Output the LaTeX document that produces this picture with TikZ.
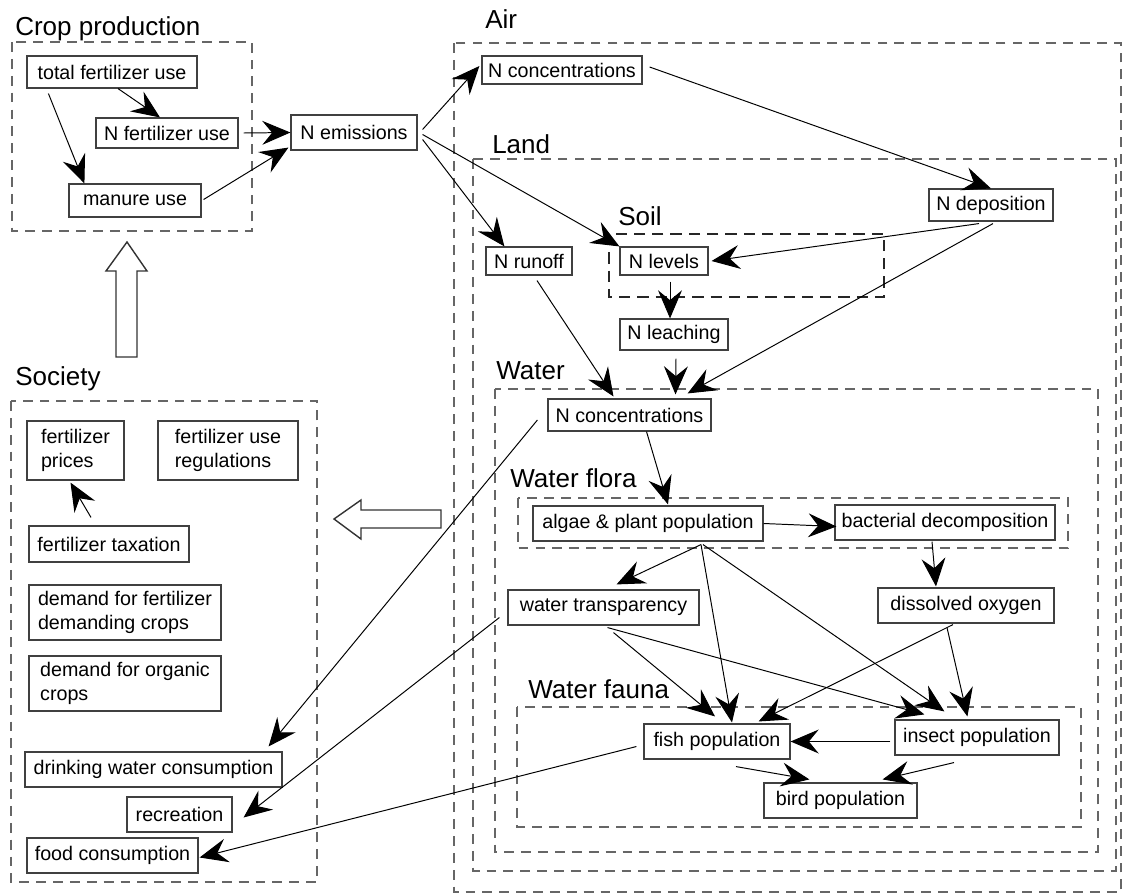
\documentclass[tikz,border=0pt]{standalone}
\usepackage{fontspec}
\setmainfont{Liberation Sans}
\usetikzlibrary{arrows.meta,calc}

\begin{document}
\begin{tikzpicture}[x=0.025cm,y=-0.025cm,
    box/.style={draw=black!75,line width=0.8pt,inner sep=0pt,minimum height=0.875cm,font=\fontsize{14}{17}\selectfont},
    twoline/.style={box,align=left,minimum height=1.475cm},
    arr/.style={-{Stealth[length=20pt,width=17pt,inset=7pt]},line width=0.7pt},
    grp/.style={draw=black!60,line width=0.9pt,dash pattern=on 7pt off 5pt},
    soilgrp/.style={draw=black!85,line width=1.4pt,dash pattern=on 8pt off 5pt},
    ttl/.style={anchor=base west,inner sep=0pt,font=\fontsize{18.5}{22}\selectfont},
    hollow/.style={draw=black!80,line width=1pt,fill=white}]

    \useasboundingbox (0,0) rectangle (1126,895);

    \draw[grp] (12,42) rectangle (252,231);
    \draw[grp] (454,43) rectangle (1121,892);
    \draw[grp] (473,159) rectangle (1116,871);
    \draw[soilgrp] (609,234) rectangle (884,297);
    \draw[grp] (495,389) rectangle (1098,852);
    \draw[grp] (518,498) rectangle (1068,548);
    \draw[grp] (517,707) rectangle (1081,827);
    \draw[grp] (11,401) rectangle (317,882);

    \node[ttl] (tCROP) at (15,35) {Crop production};
    \node[ttl] (tAIR) at (485,28) {Air};
    \node[ttl] (tLAND) at (492,153) {Land};
    \node[ttl] (tSOIL) at (618,225) {Soil};
    \node[ttl] (tWATER) at (496,379) {Water};
    \node[ttl] (tFLORA) at (510,487) {Water flora};
    \node[ttl] (tFAUNA) at (528,698) {Water fauna};
    \node[ttl] (tSOC) at (15,385) {Society};

    \draw[hollow] (116,357) -- (116,271) -- (106,271) -- (127,242) -- (147,271) -- (137,271) -- (137,357) -- cycle;
    \draw[hollow] (441,510) -- (361,510) -- (361,500) -- (334,519) -- (361,539) -- (361,528) -- (441,528) -- cycle;

    \node[box,minimum width=4.25cm,minimum height=0.8cm] (TFU) at (112,72) {total fertilizer use};
    \node[box,minimum width=3.55cm,minimum height=0.75cm] (NFU) at (167,133) {N fertilizer use};
    \node[box,minimum width=3.3cm,minimum height=0.825cm] (MAN) at (135,200.5) {manure use};
    \node[box,minimum width=3.15cm] (NEM) at (354,132.5) {N emissions};

    \node[box,minimum width=4cm,minimum height=0.7cm] (NCA) at (562,70) {N concentrations};
    \node[box,minimum width=3.1cm,minimum height=0.8cm] (NDEP) at (991,205) {N deposition};
    \node[box,minimum width=2.15cm,minimum height=0.7cm] (NRUN) at (529,261) {N runoff};
    \node[box,minimum width=2.2cm,minimum height=0.7cm] (NLEV) at (664,261) {N levels};
    \node[box,minimum width=2.7cm,minimum height=0.775cm] (NLEA) at (674,334.5) {N leaching};
    \node[box,minimum width=4.075cm,minimum height=0.8cm] (NCW) at (629.5,415) {N concentrations};

    \node[box,minimum width=5.75cm] (ALG) at (648,523.5) {algae \& plant population};
    \node[box,minimum width=5.5cm] (BAC) at (945,522.5) {bacterial decomposition};
    \node[box,minimum width=4.775cm] (WTR) at (603.5,607.5) {water transparency};
    \node[box,minimum width=4.4cm] (DOX) at (966,605.5) {dissolved oxygen};
    \node[box,minimum width=3.65cm] (FISH) at (717,741.5) {fish population};
    \node[box,minimum width=4.1cm] (INS) at (977,737.5) {insect population};
    \node[box,minimum width=3.825cm] (BIRD) at (840.5,800.5) {bird population};

    \node[twoline,minimum width=2.425cm] (FP) at (75.5,450.5) {fertilizer\\prices};
    \node[twoline,minimum width=3.5cm] (FUR) at (228,450.5) {fertilizer use\\regulations};
    \node[box,minimum width=4cm,minimum height=0.9cm] (FT) at (109,544) {fertilizer taxation};
    \node[twoline,minimum width=4.8cm,minimum height=1.375cm] (DFD) at (125,612.5) {demand for fertilizer\\demanding crops};
    \node[twoline,minimum width=4.8cm,minimum height=1.375cm] (DOC) at (125,683.5) {demand for organic\\crops};
    \node[box,minimum width=6.425cm] (DWC) at (153.5,769.5) {drinking water consumption};
    \node[box,minimum width=2.625cm] (REC) at (179.5,814.5) {recreation};
    \node[box,minimum width=4.275cm] (FC) at (112.5,855.5) {food consumption};

    \draw[arr] ($(TFU.south)+(6,0)$) -- ($(NFU.north)+(-7,0)$);
    \draw[arr] ($(TFU.south west)+(22,5)$) -- ($(MAN.north west)+(16,0)$);
    \draw[arr] ($(NFU.east)+(5,0)$) -- (NEM.west);
    \draw[arr] ($(MAN.east)+(2,-1)$) -- ($(NEM.south west)+(-2,-3)$);
    \draw[arr] ($(NEM.east)+(5,-3)$) -- ($(NCA.west)+(-2,-4)$);
    \draw[arr] ($(NEM.east)+(5,2)$) -- (NLEV.north west);
    \draw[arr] ($(NEM.east)+(5,7)$) -- ($(NRUN.north west)+(19,0)$);
    \draw[arr] ($(NCA.east)+(7,-3)$) -- (NDEP.north);
    \draw[arr] ($(NDEP.south)+(-12,2)$) -- ($(NLEV.east)+(3,0)$);
    \draw[arr] ($(NDEP.south)+(2,2)$) -- ($(NCW.north east)+(-24,-5)$);
    \draw[arr] ($(NLEV.south)+(6,6)$) -- ($(NLEA.north)+(-4,0)$);
    \draw[arr] ($(NLEA.south)+(2,8)$) -- ($(NCW.north)+(46,-4)$);
    \draw[arr] ($(NRUN.south)+(8,5)$) -- ($(NCW.north)+(-16,-2)$);
    \draw[arr] ($(NCW.west)+(-10,5)$) -- ($(DWC.north east)+(-14,-5)$);
    \draw[arr] ($(NCW.south)+(17,0)$) -- ($(ALG.north)+(20,-1)$);
    \draw[arr] ($(WTR.west)+(-8,10)$) -- ($(REC.east)+(11,3)$);
    \draw[arr] (ALG.east) -- ($(BAC.west)+(2,4)$);
    \draw[arr] ($(BAC.south)+(-13,1)$) -- ($(DOX.north)+(-30,-1)$);
    \draw[arr] ($(ALG.south)+(53,3)$) -- ($(WTR.north)+(13,-5)$);
    \draw[arr] ($(ALG.south)+(53,3)$) -- ($(FISH.north)+(15,-1)$);
    \draw[arr] ($(ALG.south)+(55,3)$) -- ($(INS.north west)+(50,-8)$);
    \draw[arr] ($(WTR.south)+(4,2)$) -- ($(INS.north west)+(30,-5)$);
    \draw[arr] ($(WTR.south)+(10,7)$) -- ($(FISH.north)+(-2,-7)$);
    \draw[arr] ($(DOX.south)+(-13,1)$) -- ($(FISH.north east)+(-32,-2)$);
    \draw[arr] ($(DOX.south)+(-19,4)$) -- ($(INS.north west)+(73,-3)$);
    \draw[arr] ($(INS.west)+(-4,4)$) -- (FISH.east);
    \draw[arr] ($(FISH.south)+(19,7)$) -- ($(BIRD.north west)+(46,-3)$);
    \draw[arr] ($(INS.south)+(-23,7)$) -- ($(BIRD.north east)+(-35,-3)$);
    \draw[arr] ($(FISH.west)+(-7,5)$) -- ($(FC.east)+(1,2)$);
    \draw[arr] ($(FT.north)+(-18,-8)$) -- ($(FP.south)+(-5,2)$);
\end{tikzpicture}
\end{document}
